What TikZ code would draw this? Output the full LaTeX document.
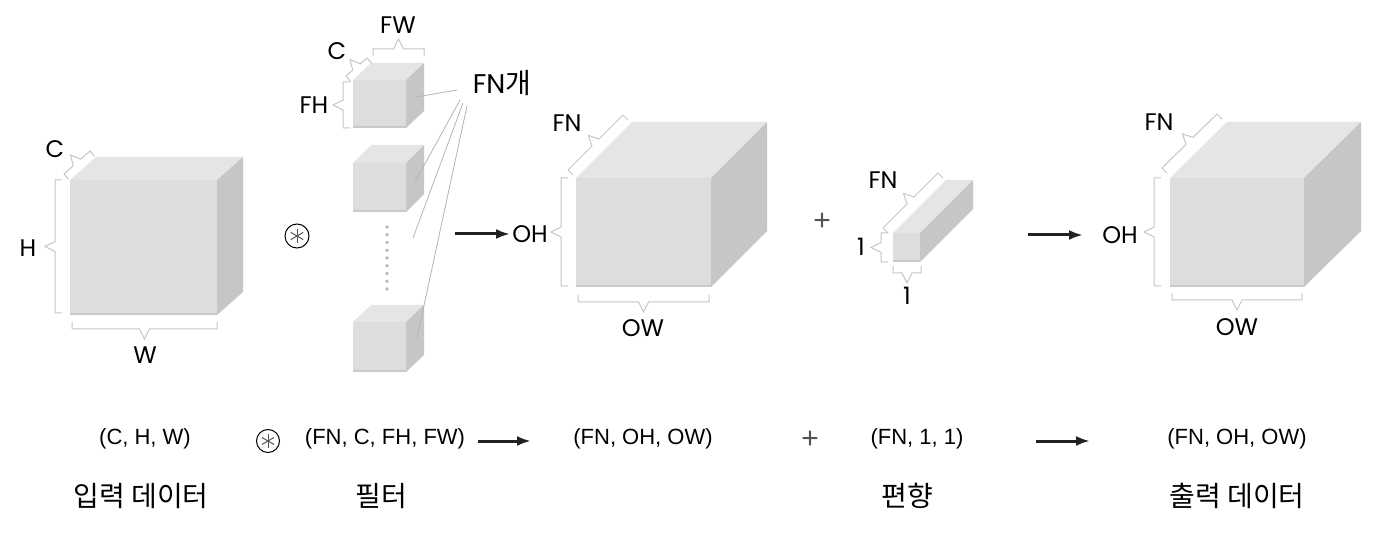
\documentclass[tikz,border=0pt]{standalone}
\usepackage{fontspec}
\setmainfont{Liberation Sans}
\newfontfamily\pop{Poppins}
\newfontfamily\kr{Noto Sans CJK KR}
\usetikzlibrary{calc,arrows.meta}
\definecolor{frontc}{HTML}{DCDDDD}
\definecolor{topc}{HTML}{E4E5E5}
\definecolor{sidec}{HTML}{C5C6C6}
\definecolor{bottomc}{HTML}{C8C9C9}
\definecolor{brkc}{HTML}{C6C6C6}
\definecolor{linec}{HTML}{B4B4B4}
\definecolor{arrc}{HTML}{222222}
\definecolor{dotc}{HTML}{B8B8B8}
\definecolor{plusc}{HTML}{555555}
\newcommand\mycube[7]{%
  \fill[frontc] (#2,#3) rectangle ++(#4,#5);
  \fill[topc] (#2,#3) -- ++(#6,-#7) -- ++(#4,0) -- ++(-#6,#7) -- cycle;
  \fill[sidec] (#2+#4,#3) -- ++(#6,-#7) -- ++(0,#5) -- ++(-#6,#7) -- cycle;
  \draw[bottomc, line width=2pt] (#2,#3+#5-1) -- ++(#4,0);
  \coordinate (#1) at (#2,#3);
}
\newcommand\brk[2]{%
  \coordinate (bA) at #1; \coordinate (bB) at #2;
  \coordinate (bM) at ($(bA)!0.5!(bB)$);
  \draw[brkline] ($(bA)!7pt!-90:(bB)$) -- (bA) -- ($(bM)!5pt!(bA)$) -- ($(bM)!10pt!90:(bB)$) -- ($(bM)!5pt!(bB)$) -- (bB) -- ($(bB)!7pt!90:(bA)$);
}
\newcommand\convsym[3]{%
  \node[convc, minimum size=#3] (#1) at #2 {};
  \foreach \a in {90,30,150} \draw[plusc, line width=1pt] ($(#1)+(\a:0.3*#3)$) -- ($(#1)+(\a+180:0.3*#3)$);
}
\begin{document}
\begin{tikzpicture}[x=1pt,y=-1pt,
  lab/.style={font=\pop\fontsize{24}{26}\selectfont, inner sep=0pt, text=black},
  tup/.style={font=\fontsize{22}{26}\selectfont, inner sep=0pt, text=black},
  krl/.style={font=\kr\fontsize{28}{32}\selectfont, inner sep=0pt, text=black},
  brkline/.style={draw=brkc, line width=1pt},
  fnline/.style={draw=linec, line width=0.8pt},
  arr/.style={draw=arrc, line width=3pt, -{Latex[length=14pt,width=10pt]}},
  convc/.style={circle, draw=black, line width=1pt, inner sep=0pt},
  plusnode/.style={font=\fontsize{30}{30}\selectfont, text=plusc, inner sep=0pt}]
\fill[white] (0,0) rectangle (1392,534);
\path[use as bounding box] (0,0) rectangle (1392,534);

% ---- input cube ----
\mycube{cin}{70}{180}{147}{135}{26}{23}
\brk{(55,313)}{(55,180)}
\brk{(64,174)}{(90,151)}
\brk{(217,329)}{(72,329)}
\node[lab] (lC) at (55,149) {C};
\node[lab] (lH) at (28,248) {H};
\node[lab] (lW) at (145,355) {W};

% ---- convolution symbol ----
\convsym{conv1}{(297,236)}{24pt}

% ---- filters ----
\mycube{f1}{353}{80}{53}{48}{18}{17}
\mycube{f2}{353}{163}{53}{49}{18}{18}
\mycube{f3}{353}{322}{53}{50}{18}{17}
\foreach \i in {0,...,8} \fill[dotc] (387,227+\i*7.75) circle (1.9);
\brk{(343,128)}{(343,82)}
\brk{(346,76)}{(367,58)}
\brk{(373,49)}{(424,49)}
\node[lab] (lFW) at (398,25) {FW};
\node[lab] (lFC) at (337,51) {C};
\node[lab] (lFH) at (314,105) {FH};
\node[lab, font=\pop\fontsize{27}{29}\selectfont] (fnk) at (502,83) {FN{\kr\fontsize{28}{29}\selectfont 개}};
\coordinate (s1) at (457,90);  \coordinate (e1) at (416,97);
\coordinate (s2) at (460,100); \coordinate (e2) at (415,182);
\coordinate (s3) at (463,103); \coordinate (e3) at (413,238);
\coordinate (s4) at (467,106); \coordinate (e4) at (417,338);
\draw[fnline] (s1) -- (e1);
\draw[fnline] (s2) -- (e2);
\draw[fnline] (s3) -- (e3);
\draw[fnline] (s4) -- (e4);

% ---- arrow 1 ----
\coordinate (a1s) at (455,234); \coordinate (a1e) at (510,234);
\draw[arr] (a1s) -- (a1e);

% ---- output cube 1 ----
\mycube{out1}{576}{178}{135}{109}{56}{56}
\brk{(561,286)}{(561,178)}
\brk{(568,170)}{(623,115)}
\brk{(709,302)}{(578,302)}
\node[lab] (lOH1) at (530,234) {OH};
\node[lab] (lFN1) at (567,123) {FN};
\node[lab] (lOW1) at (643,328) {OW};

% ---- plus ----
\node[plusnode] (plus1) at (822,222) {+};

% ---- bias ----
\mycube{bias}{893}{233}{27}{29}{53}{53}
\brk{(883,228)}{(938,173)}
\brk{(881,262)}{(881,233)}
\brk{(921,273)}{(893,273)}
\node[lab] (lFN2) at (883,180) {FN};
\node[lab] (l1a) at (861,247) {1};
\node[lab] (l1b) at (907,296) {1};

% ---- arrow 2 ----
\coordinate (a2s) at (1028,235); \coordinate (a2e) at (1083,235);
\draw[arr] (a2s) -- (a2e);

% ---- output cube 2 ----
\mycube{out2}{1170}{178}{134}{109}{57}{56}
\brk{(1154,286)}{(1154,178)}
\brk{(1162,168)}{(1217,114)}
\brk{(1302,300)}{(1172,300)}
\node[lab] (lOH2) at (1120,235) {OH};
\node[lab] (lFN3) at (1159,122) {FN};
\node[lab] (lOW2) at (1237,327) {OW};

% ---- bottom row ----
\node[tup] (t1) at (145,439) {(C, H, W)};
\convsym{conv2}{(268,441)}{23pt}
\node[tup] (t2) at (385,439) {(FN, C, FH, FW)};
\coordinate (b1s) at (478,441); \coordinate (b1e) at (531,441);
\draw[arr] (b1s) -- (b1e);
\node[tup] (t3) at (643,439) {(FN, OH, OW)};
\node[plusnode] (plus2) at (810,440) {+};
\node[tup] (t4) at (917,439) {(FN, 1, 1)};
\coordinate (b2s) at (1036,441); \coordinate (b2e) at (1090,441);
\draw[arr] (b2s) -- (b2e);
\node[tup] (t5) at (1237,439) {(FN, OH, OW)};
\node[krl] (k1) at (141,496) {입력 데이터};
\node[krl] (k2) at (381,496) {필터};
\node[krl] (k3) at (907,496) {편향};
\node[krl] (k4) at (1237,496) {출력 데이터};
\end{tikzpicture}
\end{document}
